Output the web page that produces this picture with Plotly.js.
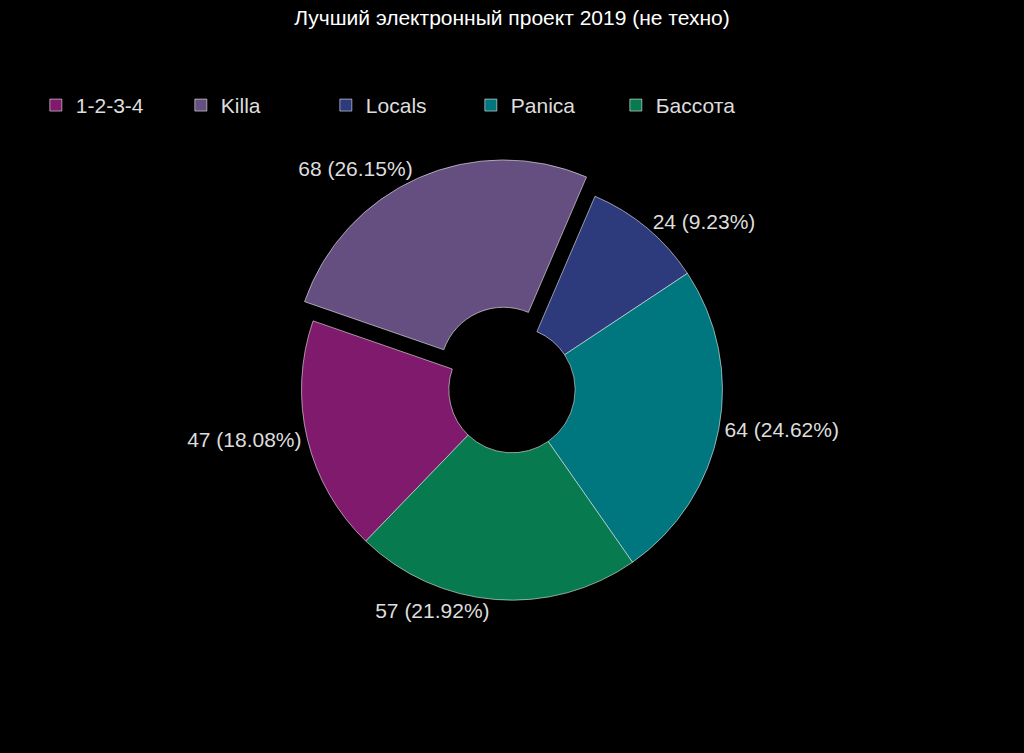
<!DOCTYPE html>
<html>
<head>
<meta charset="utf-8">
<script src="https://cdn.plot.ly/plotly-3.0.1.min.js"></script>
<style>html,body{margin:0;padding:0;background:#000;}#chart{width:1024px;height:753px;}</style>
</head>
<body>
<div id="chart"></div>
<script>
const labels = ["1-2-3-4", "Killa", "Locals", "Panica", "Бассота"];
const values = [47, 68, 24, 64, 57];
const colors = ["#7f1a6c", "#654f80", "#2d3b7d", "#00767e", "#077a50"];
const pulls = [0, 0.1, 0, 0, 0];

const trace = {
  type: "pie",
  labels: labels,
  values: values,
  sort: false,
  direction: "clockwise",
  rotation: 224,
  hole: 0.3,
  pull: pulls,
  marker: { colors: colors, line: { color: "rgba(255,255,255,0.55)", width: 1 } },
  texttemplate: "%{value} (%{percent:.2%})",
  textposition: "outside",
  textfont: { color: "#dddddd", size: 21, family: "Liberation Sans, Arial, sans-serif" },
  domain: { x: [0.15, 0.85], y: [0.175, 0.79] },
  hoverinfo: "label+value+percent"
};

const layout = {
  width: 1024,
  height: 753,
  paper_bgcolor: "#000",
  plot_bgcolor: "#000",
  margin: { l: 0, r: 0, t: 0, b: 0 },
  font: { family: "Liberation Sans, Arial, sans-serif", color: "#dddddd" },
  title: {
    text: "Лучший электронный проект 2019 (не техно)",
    font: { size: 21, color: "#ffffff", family: "Liberation Sans, Arial, sans-serif" },
    x: 0.5, xanchor: "center", y: 0.977, yanchor: "middle"
  },
  showlegend: true,
  legend: {
    orientation: "h",
    x: 0.035, xanchor: "left",
    y: 0.86, yanchor: "middle",
    font: { size: 21, color: "#dddddd" },
    entrywidth: 100,
    entrywidthmode: "pixels",
    bgcolor: "rgba(0,0,0,0)"
  }
};

Plotly.newPlot("chart", [trace], layout, { displayModeBar: false });
</script>
</body>
</html>
